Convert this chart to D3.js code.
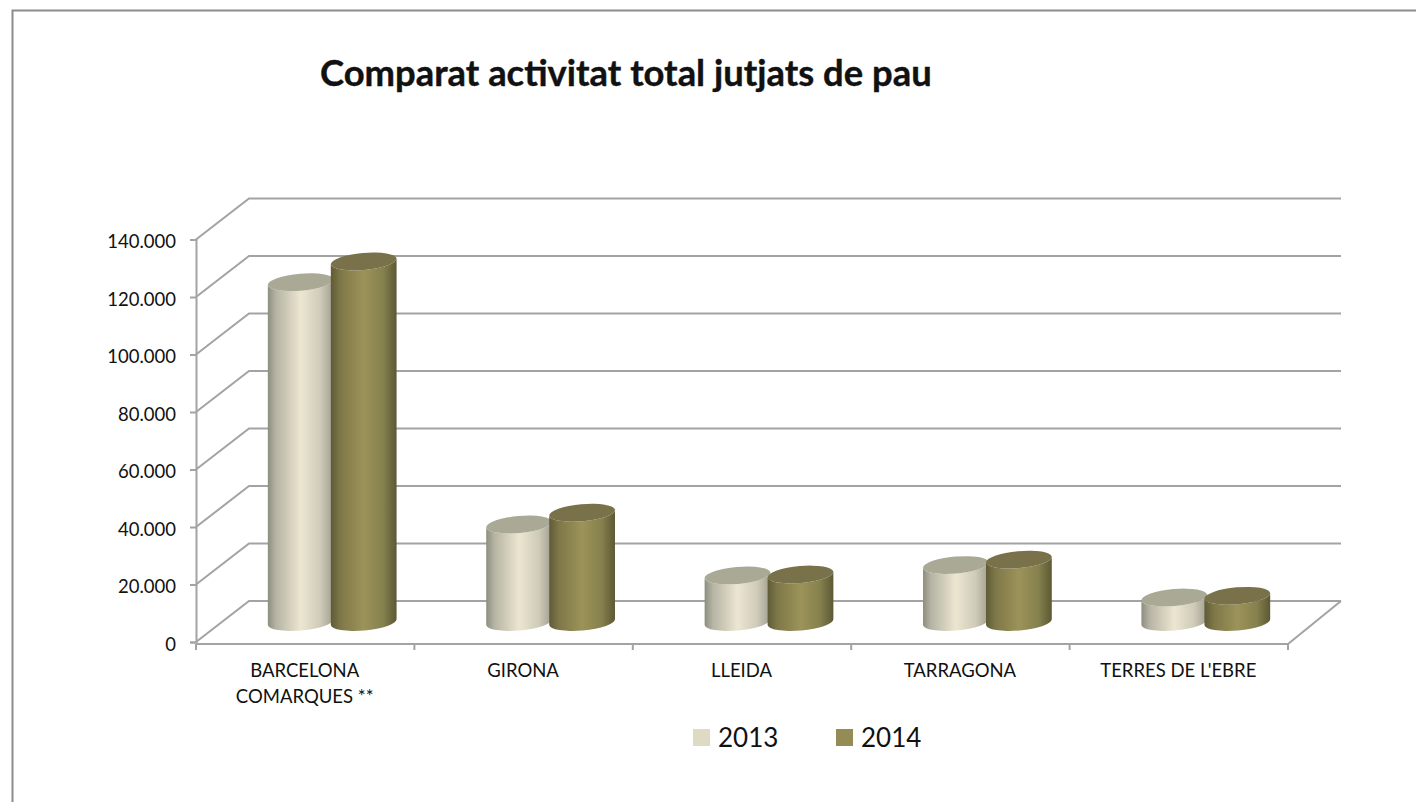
<!DOCTYPE html>
<html>
<head>
<meta charset="utf-8">
<script src="https://cdn.jsdelivr.net/npm/d3@7"></script>
<style>
  html, body { margin: 0; padding: 0; background: #fff; }
  svg { display: block; }
  text { font-family: Lato, "Open Sans", sans-serif; fill: #111; }
</style>
</head>
<body>
<div id="chart"></div>
<script>
// data
const categories = ["BARCELONA COMARQUES **", "GIRONA", "LLEIDA", "TARRAGONA", "TERRES DE L'EBRE"];
const categoryLines = [["BARCELONA", "COMARQUES **"], ["GIRONA"], ["LLEIDA"], ["TARRAGONA"], ["TERRES DE L'EBRE"]];
const years = ["2013", "2014"];
const values2013 = [118200, 33900, 16200, 19800, 8500];
const values2014 = [125400, 38000, 16500, 21700, 9100];
const yTicks = [0, 20000, 40000, 60000, 80000, 100000, 120000, 140000];
const yTickLabels = ["0", "20.000", "40.000", "60.000", "80.000", "100.000", "120.000", "140.000"];

const width = 1416, height = 802;
const depthX = 53, depthY = 41;
const gridColor = "#a3a3a3";

const svg = d3.select("#chart")
  .append("svg")
  .attr("width", width)
  .attr("height", height);

// frame
svg.append("path")
  .attr("d", `M12.5,${height} V10.5 H${width}`)
  .attr("fill", "none")
  .attr("stroke", "#8c8c8c")
  .attr("stroke-width", 2);

// title
svg.append("text")
  .attr("x", 320)
  .attr("y", 86)
  .attr("font-size", 36.4)
  .attr("font-weight", 700)
  .style("stroke", "#111")
  .style("stroke-width", 0.4)
  .text("Comparat activitat total jutjats de pau");

const xScale = d3.scaleBand()
  .domain(categories)
  .range([196, 1288]);

const yScale = d3.scaleLinear()
  .domain([0, 140000])
  .range([642, 239.5]);

// gradients
const defs = svg.append("defs");
const gradientStops = {
  "2013": [[0, "#8d8d7f"], [0.12, "#b5b3a3"], [0.5, "#ece6d1"], [0.8, "#cfcbb9"], [1, "#a09e8f"]],
  "2014": [[0, "#5f5b37"], [0.15, "#7e7849"], [0.5, "#9c9359"], [0.8, "#85804e"], [1, "#5c5833"]]
};
const topColors = { "2013": "#a9a995", "2014": "#78714a" };
const legendColors = { "2013": "#dfdac4", "2014": "#958b54" };

years.forEach(y => {
  defs.append("linearGradient")
    .attr("id", `body-${y}`)
    .selectAll("stop")
    .data(gradientStops[y])
    .join("stop")
    .attr("offset", d => d[0])
    .attr("stop-color", d => d[1]);
});

// back wall grid, side wall diagonals
const grid = svg.append("g")
  .attr("stroke", gridColor)
  .attr("stroke-width", 2)
  .attr("fill", "none");

grid.selectAll("path")
  .data(yTicks)
  .join("path")
  .attr("d", d => `M196,${yScale(d)} L${196 + depthX},${yScale(d) - depthY} H${1288 + depthX}`);

// floor right edge
grid.append("line")
  .attr("x1", 1288).attr("y1", yScale(0) + 2)
  .attr("x2", 1288 + depthX).attr("y2", yScale(0) - depthY);

// y axis
const yAxis = d3.axisLeft(yScale)
  .tickValues(yTicks)
  .tickFormat((d, i) => yTickLabels[i])
  .tickSizeOuter(0)
  .tickSize(6)
  .tickPadding(14);

const yAxisG = svg.append("g")
  .attr("transform", "translate(196,0)")
  .call(yAxis);

yAxisG.selectAll("line, path").attr("stroke", gridColor).attr("stroke-width", 2);
yAxisG.selectAll("text")
  .attr("font-size", 18.5)
  .attr("font-family", "Lato")
  .attr("fill", "#111")
  .attr("dy", "0.45em");

// x axis
const xAxisG = svg.append("g")
  .attr("transform", `translate(0,${yScale(0) + 2})`);

xAxisG.append("line")
  .attr("x1", 196).attr("x2", 1288)
  .attr("stroke", gridColor).attr("stroke-width", 2);

xAxisG.selectAll("line.tick")
  .data(d3.range(categories.length + 1))
  .join("line")
  .attr("class", "tick")
  .attr("x1", i => 196 + i * xScale.step())
  .attr("x2", i => 196 + i * xScale.step())
  .attr("y1", 0).attr("y2", 6)
  .attr("stroke", gridColor).attr("stroke-width", 2);

categories.forEach((c, i) => {
  const label = svg.append("text")
    .attr("text-anchor", "middle")
    .attr("font-size", 18.5);
  categoryLines[i].forEach((line, j) => {
    label.append("tspan")
      .attr("x", xScale(c) + xScale.bandwidth() / 2 - 0.5)
      .attr("y", 677 + j * 25.5)
      .text(line);
  });
});

// cylinders
const rx = 33, ry = 8.5, tilt = 5;
const rad = tilt * Math.PI / 180;
const dx = rx * Math.cos(rad), dy = rx * Math.sin(rad);

const bars = years.flatMap((y, s) => {
  const vals = s === 0 ? values2013 : values2014;
  return categories.map((c, i) => ({ year: y, category: c, value: vals[i] }));
});

const cx = d => xScale(d.category) + xScale.bandwidth() / 2 + depthX / 2 + 0.5
  + (d.year === "2013" ? -1 : 1) * 31.5;
const baseY = yScale(0) - 20;
const topY = d => yScale(d.value) - 20;

const bodyPath = d => {
  const x = cx(d), t = topY(d);
  return `M${x - dx},${t + dy} L${x - dx},${baseY + dy}`
    + ` A${rx},${ry} ${-tilt} 0 0 ${x + dx},${baseY - dy}`
    + ` L${x + dx},${t - dy}`
    + ` A${rx},${ry} ${-tilt} 0 1 ${x - dx},${t + dy} Z`;
};

const barG = svg.append("g")
  .selectAll("g")
  .data(bars)
  .join("g");

barG.append("path")
  .attr("d", bodyPath)
  .attr("fill", d => `url(#body-${d.year})`);

barG.append("ellipse")
  .attr("rx", rx)
  .attr("ry", ry)
  .attr("transform", d => `translate(${cx(d)},${topY(d)}) rotate(${-tilt})`)
  .attr("fill", d => topColors[d.year]);

// legend
const legend = svg.append("g")
  .selectAll("g")
  .data(years)
  .join("g")
  .attr("transform", (d, i) => `translate(${693 + i * 143},729)`);

legend.append("rect")
  .attr("width", 17)
  .attr("height", 17)
  .attr("fill", d => legendColors[d]);

legend.append("text")
  .attr("x", 25)
  .attr("y", 18)
  .attr("font-size", 26)
  .text(d => d);
</script>
</body>
</html>
